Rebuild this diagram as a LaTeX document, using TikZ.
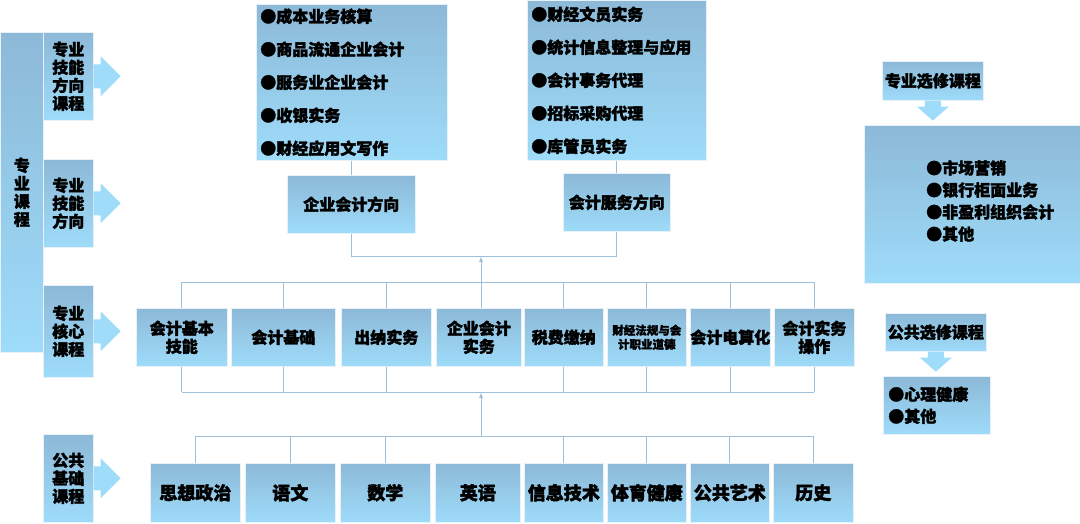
\documentclass[tikz,border=0pt]{standalone}
\usepackage{fontspec}
\setmainfont{Noto Sans CJK SC}[FakeBold=2]
\usetikzlibrary{positioning,arrows.meta}
\definecolor{boxtop}{HTML}{8CB9D7}
\definecolor{boxbot}{HTML}{9EDCFA}
\definecolor{linec}{HTML}{9DBFD8}
\tikzset{
  box/.style={draw=white!80!boxtop, line width=0.6pt, top color=boxtop, bottom color=boxbot,
    inner sep=0pt, align=center, font=\fontsize{16}{18}\bfseries},
  listbox/.style={box, align=left, inner xsep=4pt, font=\fontsize{16}{33}\bfseries},
  link/.style={draw=linec, line width=1pt},
  bigarrow/.style={fill=boxbot, draw=none},
}
\begin{document}
\begin{tikzpicture}[x=1pt, y=-1pt]
    \useasboundingbox (0,0) rectangle (1080,523);

    % left column
    \node[box, minimum width=43, minimum height=320, anchor=north west] (zy) at (0,32) {专\\业\\课\\程};
    \node[box, minimum width=50, minimum height=88, anchor=north west] (l1) at (43,32) {专业\\技能\\方向\\课程};
    \node[box, minimum width=50, minimum height=88, anchor=north west] (l2) at (43,159) {专业\\技能\\方向};
    \node[box, minimum width=50, minimum height=92, anchor=north west] (l3) at (43,285) {专业\\核心\\课程};
    \node[box, minimum width=50, minimum height=88, anchor=north west] (l4) at (43,434) {公共\\基础\\课程};
    \foreach \n in {l1,l2,l3,l4}
      \fill[bigarrow] (\n.east) ++(0,-12) -- ++(7,0) -- ++(0,-8) -- ++(20,20) -- ++(-20,20) -- ++(0,-8) -- ++(-7,0) -- cycle;

    % direction lists
    \node[listbox, text width=183, minimum height=156, anchor=north west] (qyk) at (256,4)
      {●成本业务核算\\●商品流通企业会计\\●服务业企业会计\\●收银实务\\●财经应用文写作};
    \node[listbox, text width=171, minimum height=160, anchor=north west] (fwk) at (527,0)
      {●财经文员实务\\●统计信息整理与应用\\●会计事务代理\\●招标采购代理\\●库管员实务};
    \node[box, minimum width=128, minimum height=58, anchor=north west] (qy) at (287,175) {企业会计方向};
    \node[box, minimum width=107, minimum height=58, anchor=north west] (fw) at (563,173) {会计服务方向};
    \draw[link] (qyk.south -| qy) -- (qy.north);
    \draw[link] (fwk.south -| fw) -- (fw.north);
    \coordinate (dirj) at (481,256);
    \draw[link] (qy.south) -- (qy.south |- dirj) -- (fw.south |- dirj) -- (fw.south);

    % core courses
    \foreach \n/\a/\b/\t in {c1/136/227/{会计基本\\技能}, c2/231/335/会计基础, c3/341/431/出纳实务,
        c4/436/521/{企业会计\\实务}, c5/524/603/税费缴纳, c7/690/769/会计电算化, c8/774/854/{会计实务\\操作}}
      \node[box, minimum width=\b-\a, minimum height=58, anchor=north west] (\n) at (\a,308) {\t};
    \node[box, minimum width=79, minimum height=58, anchor=north west, font=\fontsize{11.5}{14}\bfseries]
      (c6) at (607,308) {财经法规与会\\计职业道德};
    \coordinate (ctop) at (0,282);
    \coordinate (cbot) at (0,392);
    \draw[link] (c1.north |- ctop) -- (c8.north |- ctop);
    \draw[link] (c1.south |- cbot) -- (c8.south |- cbot);
    \foreach \n in {c1,c2,c3,c5,c6,c7,c8} {
      \draw[link] (\n.north) -- (\n.north |- ctop);
      \draw[link] (\n.south) -- (\n.south |- cbot);
    }
    \draw[link, -{Latex[length=6pt,width=4pt]}] (481,308) -- (dirj);

    % public basics
    \foreach \n/\a/\b/\t in {p1/150/240/思想政治, p2/245/335/语文, p3/340/430/数学, p4/435/520/英语,
        p5/524/603/信息技术, p6/607/686/体育健康, p7/690/769/公共艺术, p8/773/853/历史}
      \node[box, minimum width=\b-\a, minimum height=59, anchor=north west,
            font=\fontsize{18}{20}\bfseries] (\n) at (\a,463) {\t};
    \coordinate (ptop) at (0,436);
    \draw[link] (p1.north |- ptop) -- (p8.north |- ptop);
    \foreach \n in {p1,p2,p3,p5,p6,p7,p8}
      \draw[link] (\n.north) -- (\n.north |- ptop);
    \draw[link, -{Latex[length=6pt,width=4pt]}] (481,436) -- (481,392);

    % electives
    \node[box, minimum width=101, minimum height=39, anchor=north west] (zx) at (882,61) {专业选修课程};
    \node[box, minimum width=216, minimum height=158, anchor=north west] (zxk) at (864,125) {};
    \node[align=left, anchor=north west, inner sep=0pt, font=\fontsize{16}{22}\bfseries] (zxt) at (926,160)
      {●市场营销\\●银行柜面业务\\●非盈利组织会计\\●其他};
    \node[box, minimum width=101, minimum height=38, anchor=north west] (gx) at (885,313) {公共选修课程};
    \node[box, text width=97, inner xsep=5pt, minimum height=58, anchor=north west, align=left,
          font=\fontsize{16}{22}\bfseries] (gxk) at (883,376) {●心理健康\\●其他};
    \foreach \a in {zx, gx}
      \fill[bigarrow] (\a.south) ++(-8,0) -- ++(16,0) -- ++(0,6) -- ++(8,0) -- ++(-16,14) -- ++(-16,-14) -- ++(8,0) -- cycle;
\end{tikzpicture}
\end{document}
